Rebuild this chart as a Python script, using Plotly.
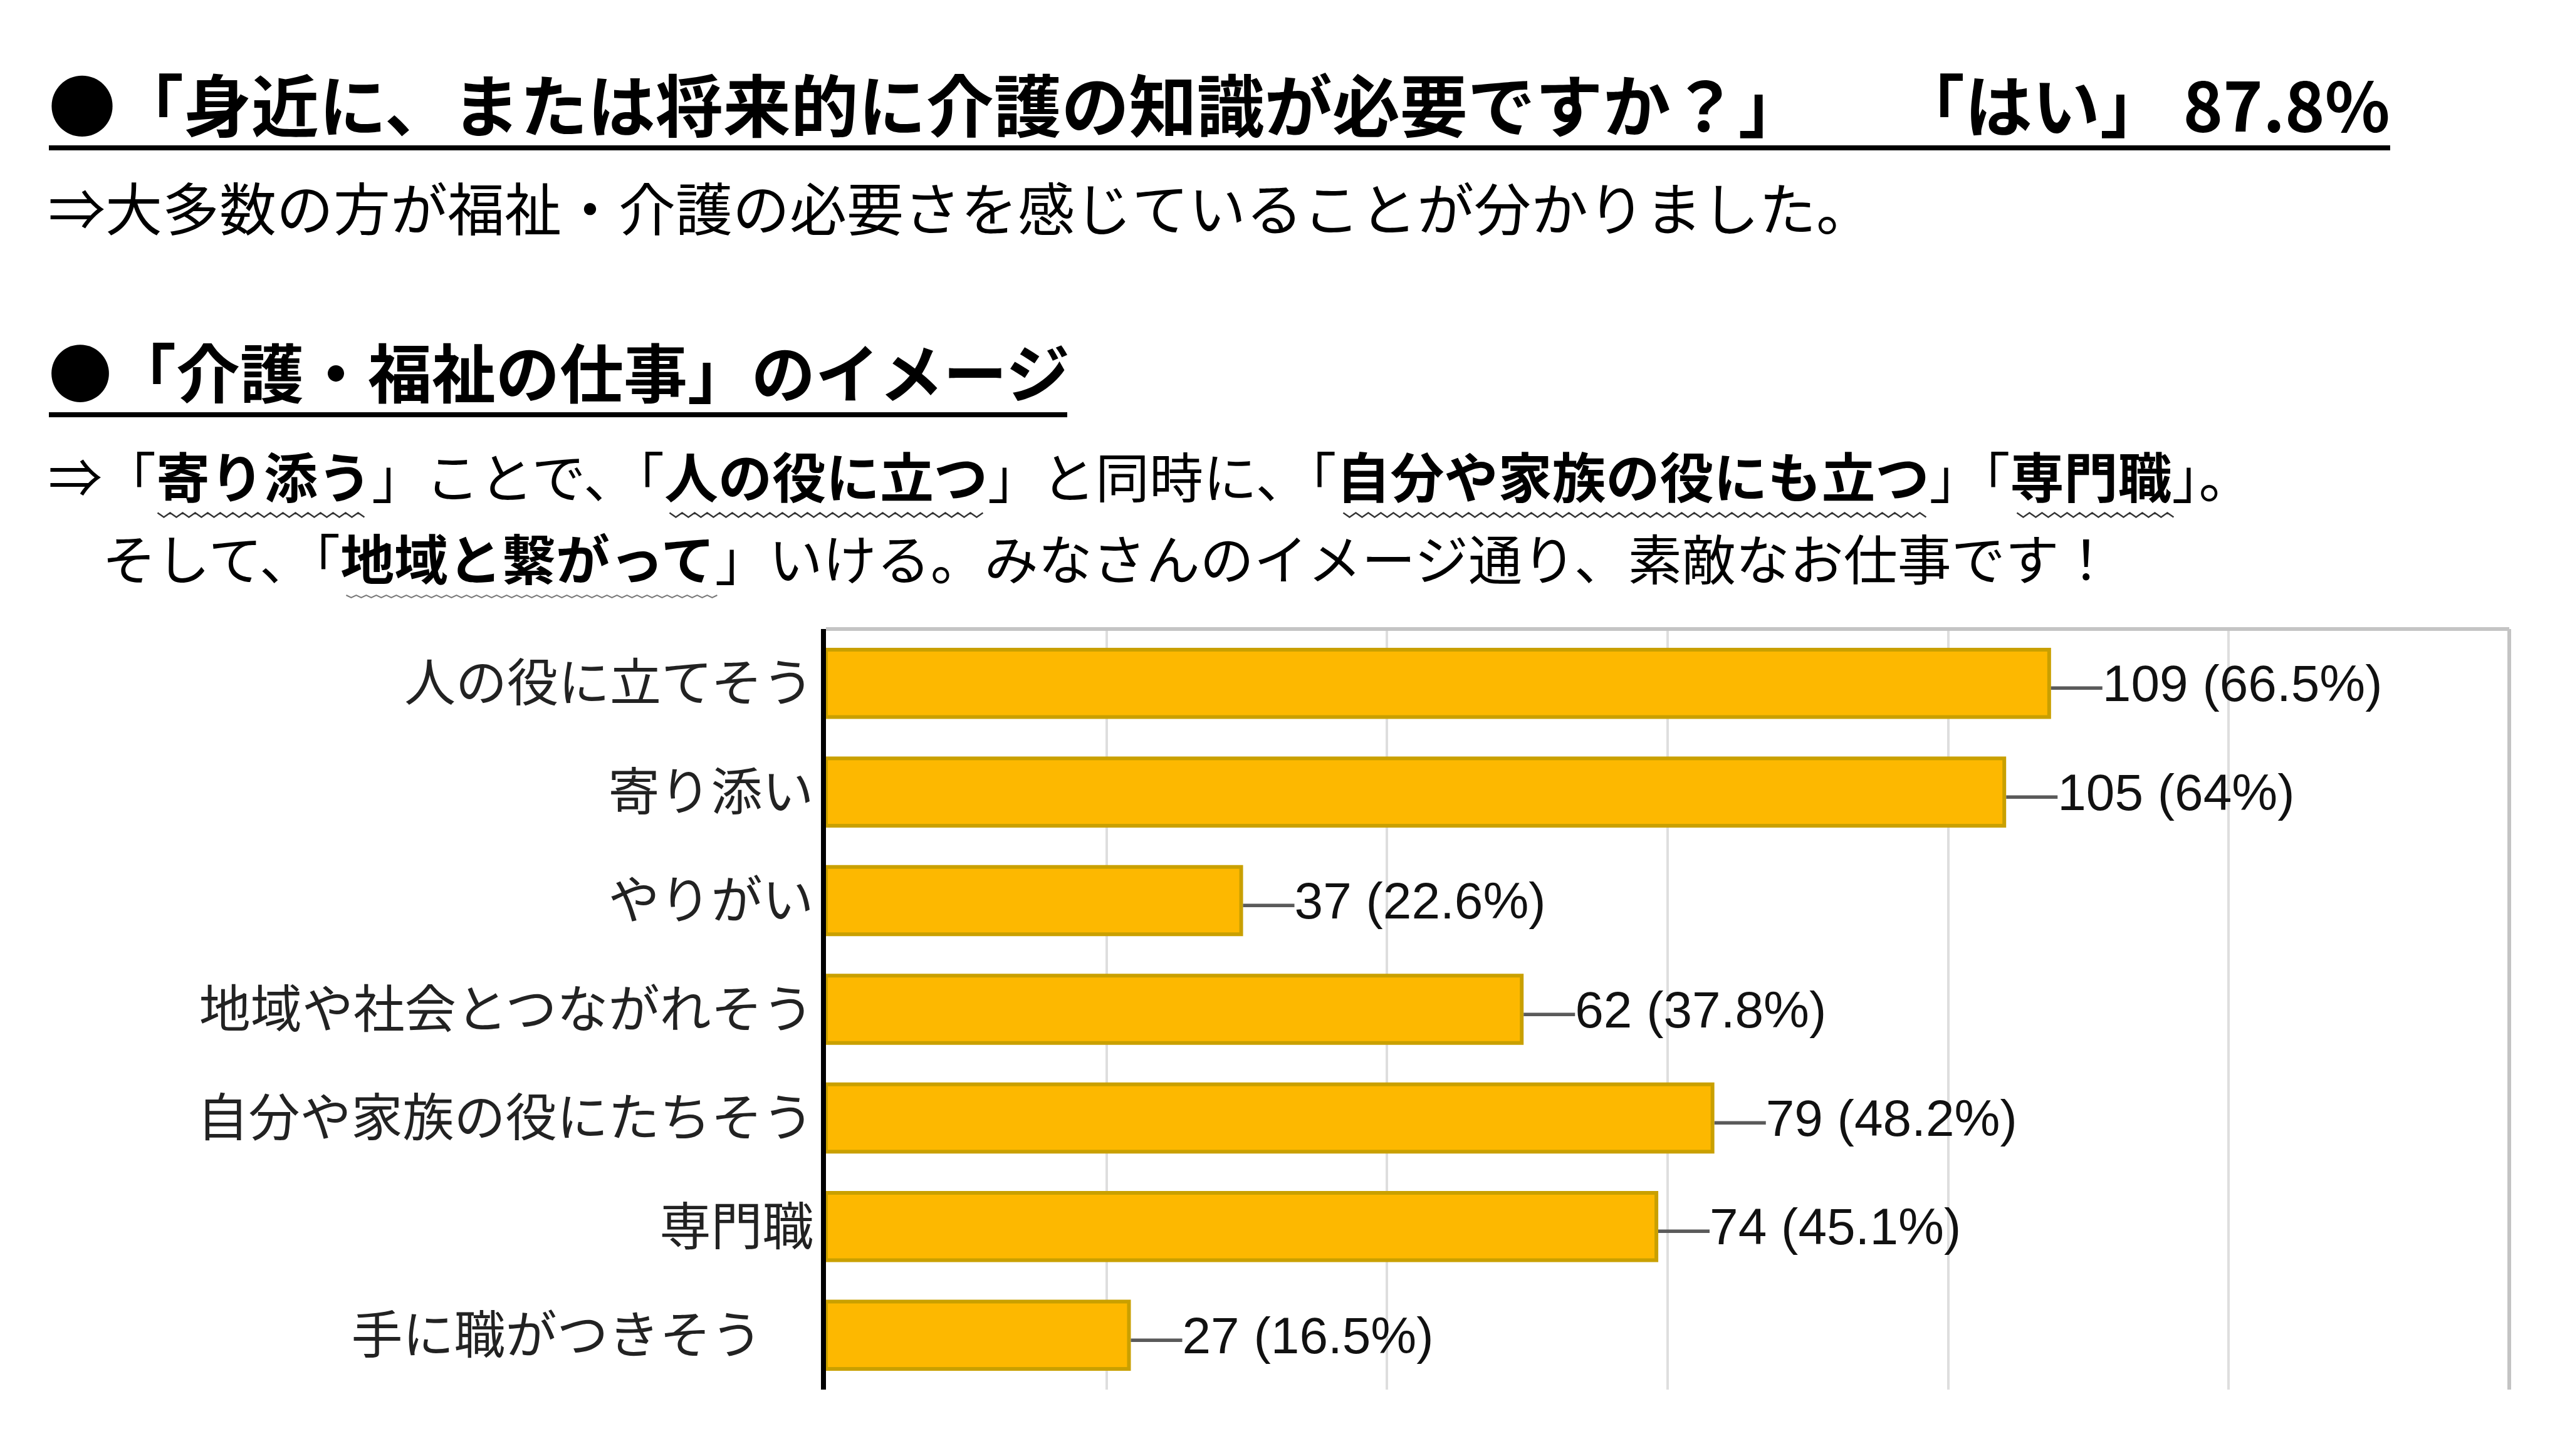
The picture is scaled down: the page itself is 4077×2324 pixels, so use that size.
import numpy as np
import plotly.graph_objects as go

# ---------------- data ----------------
categories = ["人の役に立てそう", "寄り添い", "やりがい", "地域や社会とつながれそう",
              "自分や家族の役にたちそう", "専門職", "手に職がつきそう\u3000"]
counts = [109, 105, 37, 62, 79, 74, 27]
percents = [66.5, 64, 22.6, 37.8, 48.2, 45.1, 16.5]
x_ticks = [0, 25, 50, 75, 100, 125, 150]

heading1 = "●「身近に、または将来的に介護の知識が必要ですか？」"
heading1_answer = "「はい」 87.8%"
line2 = "⇒大多数の方が福祉・介護の必要さを感じていることが分かりました。"
heading2 = "●「介護・福祉の仕事」のイメージ"
line3_parts = [("⇒「", False), ("寄り添う", True), ("」ことで、「", False), ("人の役に立つ", True),
               ("」と同時に、「", False), ("自分や家族の役にも立つ", True), ("」「", False),
               ("専門職", True), ("」。", False)]
line4_parts = [("\u3000そして、「", False), ("地域と繋がって", True),
               ("」いける。みなさんのイメージ通り、素敵なお仕事です！", False)]

# ---------------- layout geometry (pixels) ----------------
FW, FH = 4077, 2324
L, R, T, B = 1318, 4004, 1004, 2218
PW, PH = R - L, B - T


def px(x):
    return (x - L) / PW


def py(y):
    return (B - y) / PH


JP = "Noto Sans CJK JP"
LAT = "Arial, Liberation Sans, sans-serif"

labels = [f'<span style="color:#5a5a5a">—</span>{c} ({p:g}%)' for c, p in zip(counts, percents)]

fig = go.Figure()
fig.add_trace(go.Bar(
    x=counts, y=categories, orientation="h",
    marker=dict(color="#FDB800", line=dict(color="#C9A000", width=6)),
    width=0.62,
    text=labels, textposition="outside", constraintext="none", cliponaxis=False,
    outsidetextfont=dict(family=LAT, size=82, color="#111111"),
    hoverinfo="skip",
))

annotations = []
shapes = []


def add_text(text, x, y, size, bold=False, xanchor="left"):
    annotations.append(dict(
        text=text, x=px(x), y=py(y), xref="paper", yref="paper",
        xanchor=xanchor, yanchor="middle", showarrow=False,
        font=dict(family=JP, size=size, color="#000000", weight="bold" if bold else "normal"),
        borderpad=0,
    ))


def rich(parts):
    return "".join(f"<b>{s}</b>" if b else s for s, b in parts)


# headings and lines
H1, H2, FS2, FS3 = 108, 102, 91, 86
X0 = 76
add_text(heading1, X0, 163, H1, bold=True)
add_text(heading1_answer, 3815, 163, H1, bold=True, xanchor="right")
add_text(line2, X0, 328, FS2)
add_text(heading2, X0, 590, H2, bold=True)
add_text(rich(line3_parts), X0, 757, FS3)
add_text(rich(line4_parts), X0, 888, FS3)


def hline(x0, x1, y, width, color="#000000"):
    shapes.append(dict(type="line", xref="paper", yref="paper",
                       x0=px(x0), x1=px(x1), y0=py(y), y1=py(y),
                       line=dict(color=color, width=width)))


hline(78, 3814, 236, 8)
hline(78, 1703, 662, 8)


def zigzag(x0, x1, y, period, amp, color, width):
    n = int((x1 - x0) / (period / 2))
    xs = x0 + np.arange(n + 1) * (period / 2)
    ys = y + np.where(np.arange(n + 1) % 2 == 0, -amp, amp)
    path = "M " + " L ".join(f"{px(a):.6f},{py(b):.6f}" for a, b in zip(xs, ys))
    shapes.append(dict(type="path", xref="paper", yref="paper", path=path,
                       line=dict(color=color, width=width)))


CLOSE = set("、。」）")
OPEN = set("「（")


def char_positions(text, fs):
    """advance positions, accounting for adjacent-punctuation trimming in the browser"""
    pos = [0.0]
    for i, ch in enumerate(text):
        adv = 1.0
        nxt = text[i + 1] if i + 1 < len(text) else ""
        if ch in CLOSE and (nxt in OPEN or nxt in CLOSE):
            adv = 0.5
        pos.append(pos[-1] + adv * fs)
    return pos


def underline_parts(parts, y, fs, style):
    full = "".join(s for s, _ in parts)
    pos = char_positions(full, fs)
    k = 0
    for s, b in parts:
        if b:
            xa = X0 + pos[k] + 0.04 * fs
            xb = X0 + pos[k + len(s)] - 0.04 * fs
            if style == "wave":
                zigzag(xa, xb, y, 20, 3.5, "#333333", 2.5)
            else:
                zigzag(xa, xb, y, 16, 2.0, "#777777", 2)
        k += len(s)


underline_parts(line3_parts, 822, FS3, "wave")
underline_parts(line4_parts, 952, FS3, "dot")

# chart frame (top and right)
shapes.append(dict(type="line", xref="paper", yref="paper", x0=0, x1=1, y0=1, y1=1,
                   line=dict(color="#c4c4c4", width=6)))
shapes.append(dict(type="line", xref="paper", yref="paper", x0=1, x1=1, y0=0, y1=1,
                   line=dict(color="#c4c4c4", width=6)))

fig.update_layout(
    width=FW, height=FH,
    margin=dict(l=L, r=FW - R, t=T, b=FH - B, pad=0),
    paper_bgcolor="white", plot_bgcolor="white",
    showlegend=False,
    annotations=annotations, shapes=shapes,
    xaxis=dict(range=[0, 150], tickvals=x_ticks, showticklabels=False,
               showgrid=True, gridcolor="#dedede", gridwidth=4,
               zeroline=False, showline=False, fixedrange=True),
    yaxis=dict(autorange="reversed", showline=True, linecolor="#000000", linewidth=8,
               tickfont=dict(family=JP, size=82, color="#222222"),
               ticks="", ticklabelstandoff=-5, showgrid=False, zeroline=False,
               fixedrange=True),
)

fig.write_html("out.html", config={"displayModeBar": False},
               post_script="document.body.style.margin='0px';document.body.style.overflow='hidden';")
